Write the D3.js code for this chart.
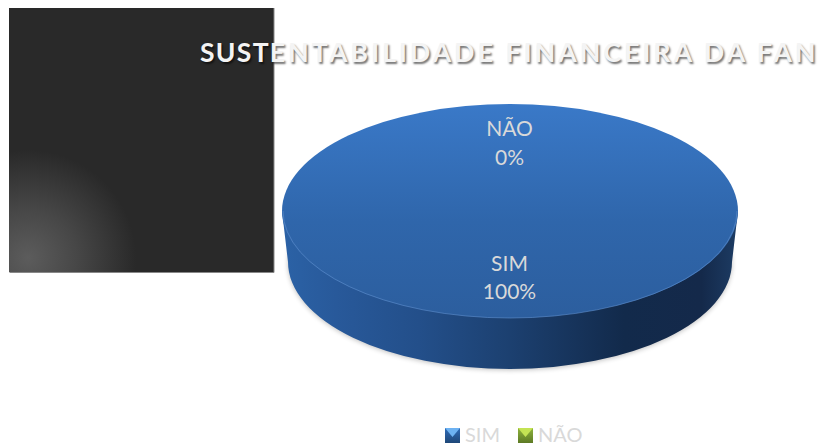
<!DOCTYPE html>
<html><head><meta charset="utf-8">
<script src="https://cdn.jsdelivr.net/npm/d3@7/dist/d3.min.js"></script>
<style>html,body{margin:0;padding:0;background:#fff;overflow:hidden}svg{display:block}text{font-family:Lato,"Open Sans",sans-serif}</style>
</head><body><svg id="c" width="822" height="448"></svg>
<script>
const categories = ["SIM", "NÃO"];
const values = [100, 0];
const percentLabels = ["100%", "0%"];
const titleParts = ["SUST", "ENTABILIDADE FINANCEIRA DA FAN"];

const svg = d3.select("#c");
const defs = svg.append("defs");
function grad(id, stops, vertical) {
  const g = defs.append("linearGradient").attr("id", id).attr("x1", 0).attr("y1", 0)
    .attr("x2", vertical ? 0 : 1).attr("y2", vertical ? 1 : 0);
  stops.forEach(s => g.append("stop").attr("offset", s[0]).attr("stop-color", s[1]));
}
grad("topFace", [[0, "#3a79c8"], [0.55, "#2f66ab"], [1, "#2c5e9e"]], true);
grad("side", [[0, "#2b62a6"], [0.12, "#28599a"], [0.3, "#234f8a"], [0.5, "#1c4070"], [0.75, "#122a4b"], [0.92, "#14294a"], [1, "#1d3c64"]], false);
const glow = defs.append("radialGradient").attr("id", "glow").attr("gradientUnits", "userSpaceOnUse")
  .attr("cx", 28).attr("cy", 258).attr("r", 108);
glow.append("stop").attr("offset", 0).attr("stop-color", "#5c5c5c");
glow.append("stop").attr("offset", 0.45).attr("stop-color", "#474747");
glow.append("stop").attr("offset", 1).attr("stop-color", "#292929");
const blur = defs.append("filter").attr("id", "soft").attr("x", "-5%").attr("y", "-5%").attr("width", "110%").attr("height", "115%");
blur.append("feGaussianBlur").attr("stdDeviation", 2.5);
grad("sw0", [[0, "#2f6cb8"], [1, "#1f4778"]], true);
grad("sw1", [[0, "#8fb33c"], [1, "#5d7a25"]], true);

// dark panel
svg.append("rect").attr("x", 9).attr("y", 8).attr("width", 265).attr("height", 264).attr("fill", "#292929");
svg.append("rect").attr("x", 9).attr("y", 8).attr("width", 265).attr("height", 264).attr("fill", "url(#glow)");
svg.append("path").attr("d", "M9.5 272.5H274V8").attr("fill", "none").attr("stroke", "#888");

// pie
const cx = 510, cy = 211, rx = 228, ry = 107, depth = 51, rx2 = 222;
const pie = d3.pie().value(d => d).sort(null).startAngle(Math.PI).endAngle(3 * Math.PI)(values);
const arc = d3.arc().innerRadius(0).outerRadius(rx);
const sx = d3.scaleLinear().domain([0, 1]).range([cx, cx + rx]);

const sidePath = `M${cx - rx} ${cy}L${cx - rx2} ${cy + depth}A${rx2} ${ry} 0 0 0 ${cx + rx2} ${cy + depth}L${cx + rx} ${cy}Z`;
svg.append("ellipse").attr("cx", cx).attr("cy", cy + depth + 1).attr("rx", rx2).attr("ry", ry)
  .attr("fill", "#000").attr("opacity", 0.25).attr("filter", "url(#soft)");
svg.append("path").attr("d", sidePath).attr("fill", "url(#side)");

const g = svg.append("g").attr("transform", `translate(${sx(0)},${cy}) scale(1,${ry / rx})`);
const sliceFills = ["url(#topFace)", "#9bbb59"];
g.selectAll("path").data(pie).join("path").attr("d", arc).attr("fill", (d, i) => sliceFills[i]);
svg.append("path")
  .attr("d", `M${cx - rx + 1} ${cy}A${rx - 1} ${ry} 0 0 0 ${cx + rx - 1} ${cy}`)
  .attr("fill", "none").attr("stroke", "#5f8fcf").attr("stroke-width", 1).attr("opacity", 0.6);

// data labels
const labelY = [[263, 291], [128, 157]];
categories.forEach((c, i) => {
  [c, percentLabels[i]].forEach((t, j) => {
    svg.append("text").attr("x", cx - 0.5).attr("y", labelY[i][j]).attr("dy", "0.36em")
      .attr("text-anchor", "middle").attr("font-size", 21).attr("fill", "#d9d9d9").text(t);
  });
});

// title
const title = svg.append("text").attr("x", 200).attr("y", 62).attr("font-size", 26.5).attr("font-weight", 700)
  .attr("fill", "#f4f4f4").style("text-shadow", "1.5px 1.5px 2px rgba(0,0,0,.55)");
title.append("tspan").attr("letter-spacing", 1.3).text(titleParts[0]);
title.append("tspan").attr("letter-spacing", 3.15).text(titleParts[1]);

// legend
const legendX = [445, 518], legendTextX = [465, 538];
const swatchTop = ["#6db2f2", "#c4e354"];
categories.forEach((c, i) => {
  const x = legendX[i], y = 428, s = 15;
  svg.append("rect").attr("x", x).attr("y", y).attr("width", s).attr("height", s).attr("fill", `url(#sw${i})`);
  svg.append("path").attr("d", `M${x} ${y}H${x + s}L${x + s / 2} ${y + s * 0.6}Z`).attr("fill", swatchTop[i]);
  svg.append("text").attr("x", legendTextX[i]).attr("y", 442).attr("font-size", 20).attr("fill", "#d9d9d9").text(c);
});
</script></body></html>
